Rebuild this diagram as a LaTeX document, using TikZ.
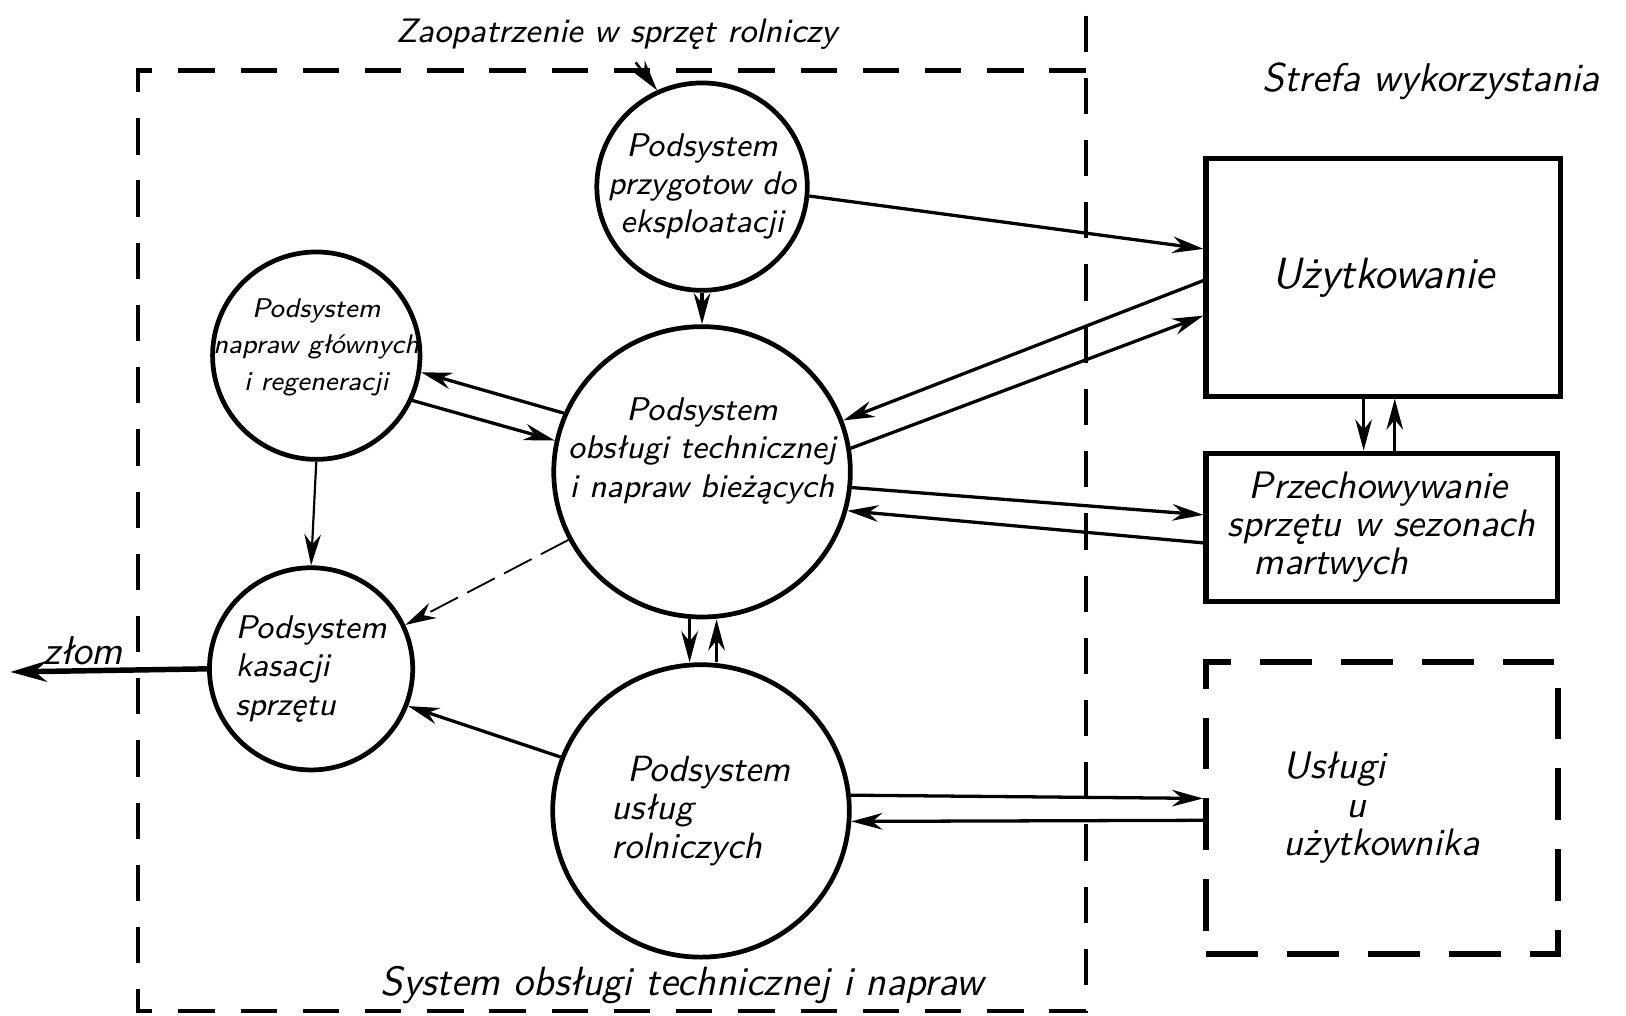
\documentclass[tikz,border=0pt]{standalone}
\usepackage{tikz}
\usetikzlibrary{shapes,arrows.meta,positioning}

\begin{document}
\begin{tikzpicture}[
    font=\sffamily\itshape,
    >={Stealth[length=3mm,width=1.6mm]},
    subsystem/.style={ellipse, draw, line width=1.3pt, inner sep=0pt},
    subtext/.style={align=center, font=\sffamily\itshape\fontsize{9}{10.5}\selectfont},
    zone/.style={rectangle, draw, line width=1.4pt, inner sep=0pt, align=left,
                 font=\sffamily\itshape\fontsize{10.5}{10.5}\selectfont},
    flow/.style={->, line width=0.9pt},
    boundary/.style={line width=1.2pt, dash pattern=on 3.5mm off 2.5mm}
]
    \useasboundingbox (0,0) rectangle (15.68,9.79);

    % System boundary
    \draw[boundary] (10.47,9.64) -- (10.47,0.04) -- (1.33,0.04) -- (1.33,9.11) -- (10.47,9.11);
    \node[font=\sffamily\itshape\fontsize{11.2}{12}\selectfont] (system) at (6.58,0.29) {System obsługi technicznej i napraw};
    \node[font=\sffamily\itshape\fontsize{11}{12}\selectfont] (strefa) at (13.80,9.01) {Strefa wykorzystania};
    \node[font=\sffamily\itshape\fontsize{9.3}{10}\selectfont] (zaopatrzenie) at (5.95,9.46) {Zaopatrzenie w sprzęt rolniczy};

    % Subsystems
    \node[subsystem, minimum width=2.03cm, minimum height=2cm,
          label={[subtext]center:Podsystem\\przygotow do\\eksploatacji}] (prep) at (6.77,7.99) {};
    \node[subsystem, minimum width=2cm, minimum height=2cm,
          label={[subtext, yshift=0.8mm, font=\sffamily\itshape\fontsize{7.4}{10}\selectfont]center:Podsystem\\napraw głównych\\i regeneracji}] (naprawy) at (3.05,6.36) {};
    \node[subsystem, minimum width=2.86cm, minimum height=2.8cm,
          label={[subtext, yshift=2mm]center:Podsystem\\obsługi technicznej\\i napraw bieżących}] (obsluga) at (6.77,5.24) {};
    \node[subsystem, minimum width=1.96cm, minimum height=1.95cm,
          label={[subtext, align=left]center:Podsystem\\kasacji\\sprzętu}] (kasacja) at (3.00,3.34) {};
    \node[subsystem, minimum width=2.86cm, minimum height=2.82cm,
          label={[subtext, align=left, font=\sffamily\itshape\fontsize{10}{10.5}\selectfont]center:\hspace*{1.5mm}Podsystem\\usług\\rolniczych}] (uslugi) at (6.76,1.97) {};

    % Zone of use
    \node[zone, minimum width=3.42cm, minimum height=2.29cm, font=\sffamily\itshape\large] (uzytk) at (13.34,7.115) {Użytkowanie};
    \node[zone, minimum width=3.39cm, minimum height=1.43cm] (przech) at (13.325,4.705)
        {\hspace*{2mm}Przechowywanie\\sprzętu w sezonach\\\hspace*{2.5mm}martwych};
    \node[zone, line width=1.6pt, dash pattern=on 5mm off 2.8mm, minimum width=3.39cm, minimum height=2.82cm] (uslugiu) at (13.325,2.0)
        {Usługi\\\hspace*{6mm}u\\użytkownika};

    \coordinate (zlom) at (0.10,3.31);

    % Flows
    \draw[flow, line width=0.7pt] ([xshift=1.8mm]zaopatrzenie.south) -- (prep.115);
    \draw[flow] (prep.-5) -- (uzytk.171);
    \draw[flow] (prep.south) -- (obsluga.north);
    \draw[flow] (uzytk.181) -- (obsluga.20);
    \draw[flow] (obsluga.9) -- (uzytk.192);
    \draw[flow] (obsluga.-6) -- (przech.176);
    \draw[flow] (przech.185) -- (obsluga.-15);
    \draw[flow] ([xshift=-1.9mm]uzytk.south) -- ([xshift=-1.9mm]uzytk.south |- przech.north);
    \draw[flow] ([xshift=1.1mm]przech.north -| uzytk.south) -- ([xshift=1.1mm]uzytk.south);

    \draw[flow] (obsluga.157) -- (naprawy.-9);
    \draw[flow] (naprawy.-25) -- (obsluga.168);
    \draw[flow, line width=0.6pt] (naprawy.south) -- (kasacja.north);
    \draw[flow, line width=0.5pt, dash pattern=on 3mm off 1mm] (obsluga.207) -- (kasacja.25);
    \draw[flow] (uslugi.159) -- (kasacja.-21);

    \draw[flow] ([xshift=-1.2mm]obsluga.south) -- ([xshift=-1.2mm]obsluga.south |- uslugi.north);
    \draw[flow] ([xshift=1.4mm]obsluga.south |- uslugi.north) -- ([xshift=1.4mm]obsluga.south);
    \draw[flow] (uslugi.6) -- (uslugiu.177);
    \draw[flow] (uslugiu.184) -- (uslugi.-4);

    \draw[->, line width=1.5pt, >={Stealth[length=3.5mm,width=2mm]}] (kasacja.west) --
        node[pos=0.63, above, inner sep=1pt, font=\sffamily\itshape\fontsize{11}{12}\selectfont] {złom} (zlom);
\end{tikzpicture}
\end{document}
